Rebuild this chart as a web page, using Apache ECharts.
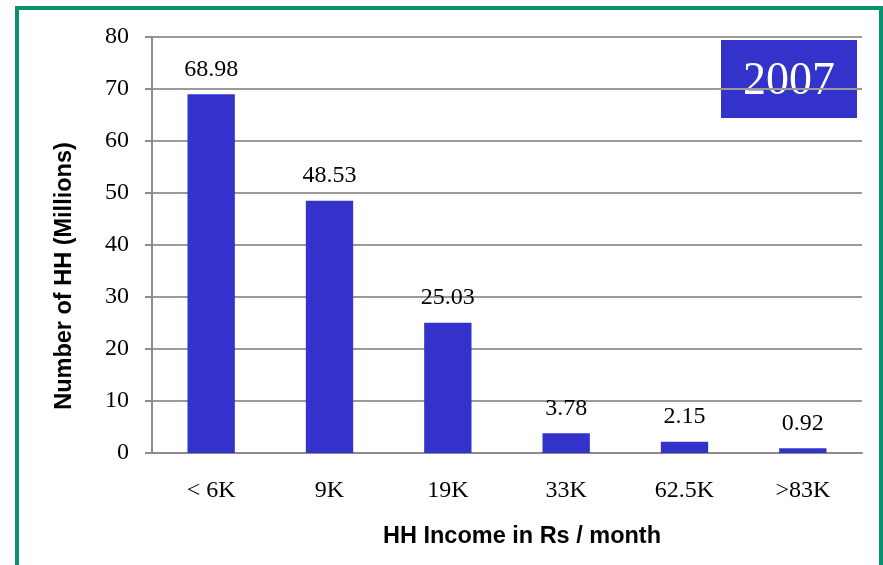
<!DOCTYPE html>
<html>
<head>
<meta charset="utf-8">
<script src="https://cdn.jsdelivr.net/npm/echarts@6/dist/echarts.min.js"></script>
<style>
    html, body { margin: 0; padding: 0; background: #fff; }
    .frame {
        position: absolute;
        left: 15px;
        top: 6px;
        width: 860px;
        height: 600px;
        border: 4px solid #0a9270;
    }
    #main {
        position: absolute;
        left: 0;
        top: 0;
        width: 883px;
        height: 565px;
    }
</style>
</head>
<body>
<div class="frame"></div>
<div id="main"></div>
<script>
    // income bands and households (millions)
    var categories = ['< 6K', '9K', '19K', '33K', '62.5K', '>83K'];
    var households = [68.98, 48.53, 25.03, 3.78, 2.15, 0.92];
    var yearLabel = '2007';

    var myChart = echarts.init(document.getElementById('main'));

    myChart.setOption({
        animation: false,
        grid: {
            left: 152,
            right: 21,
            top: 37,
            bottom: 112
        },
        xAxis: {
            type: 'category',
            data: categories,
            name: 'HH Income in Rs / month',
            nameLocation: 'middle',
            nameGap: 72,
            nameTextStyle: {
                fontFamily: 'Liberation Sans',
                fontWeight: 'bold',
                fontSize: 23.5,
                color: '#000',
                padding: [0, 0, 0, 30]
            },
            axisLine: { lineStyle: { color: '#8c8c8c', width: 2 } },
            axisTick: { length: 6, lineStyle: { color: '#8c8c8c', width: 2 } },
            axisLabel: {
                margin: 26,
                fontFamily: 'Liberation Serif',
                fontSize: 24,
                color: '#000'
            }
        },
        yAxis: {
            type: 'value',
            min: 0,
            max: 80,
            interval: 10,
            name: 'Number of HH (Millions)',
            nameLocation: 'middle',
            nameGap: 75,
            nameTextStyle: {
                fontFamily: 'Liberation Sans',
                fontWeight: 'bold',
                fontSize: 23.5,
                color: '#000',
                padding: [0, 62, 0, 0]
            },
            axisLine: { show: true, lineStyle: { color: '#8c8c8c', width: 2 } },
            axisTick: { show: true, length: 7, lineStyle: { color: '#8c8c8c', width: 2 } },
            axisLabel: {
                margin: 23,
                fontFamily: 'Liberation Serif',
                fontSize: 24,
                color: '#000'
            },
            splitLine: { lineStyle: { color: '#9a9a9a', width: 2 } }
        },
        graphic: [
            {
                type: 'group',
                right: 26,
                top: 40,
                z: -1,
                children: [
                    {
                        type: 'rect',
                        shape: { x: 0, y: 0, width: 136, height: 78 },
                        style: { fill: '#3333cc' }
                    },
                    {
                        type: 'text',
                        x: 68,
                        y: 42,
                        style: {
                            text: yearLabel,
                            fill: '#fff',
                            fontFamily: 'Liberation Serif',
                            fontSize: 46,
                            align: 'center',
                            verticalAlign: 'middle'
                        }
                    }
                ]
            }
        ],
        series: [
            {
                type: 'bar',
                data: households,
                barWidth: '40%',
                itemStyle: { color: '#3333cc' },
                label: {
                    show: true,
                    position: 'top',
                    distance: 13,
                    fontFamily: 'Liberation Serif',
                    fontSize: 24,
                    color: '#000'
                }
            }
        ]
    });
</script>
</body>
</html>
